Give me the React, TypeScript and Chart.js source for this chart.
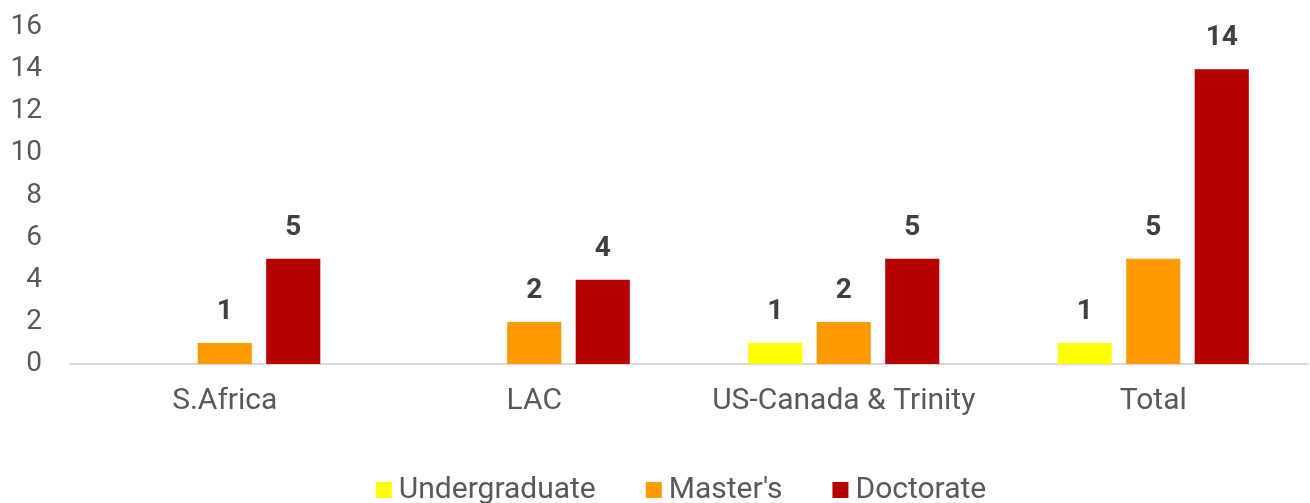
import React, { useEffect, useRef } from 'react';
import { Chart, registerables } from 'chart.js';

Chart.register(...registerables);

const categories = ['S.Africa', 'LAC', 'US-Canada & Trinity', 'Total'];
const seriesNames = ['Undergraduate', "Master's", 'Doctorate'];
const undergraduate = [0, 0, 1, 1];
const masters = [1, 2, 2, 5];
const doctorate = [5, 4, 5, 14];
const yMin = 0;
const yMax = 16;
const yStep = 2;

const colors = ['#FFFF00', '#FF9900', '#B70000'];
const FONT = 'Roboto, "Noto Sans", "DejaVu Sans", sans-serif';

const valueLabels = {
  id: 'valueLabels',
  afterDatasetsDraw(chart: any) {
    const ctx = chart.ctx;
    ctx.save();
    ctx.font = `bold 28px ${FONT}`;
    ctx.fillStyle = '#404040';
    ctx.textAlign = 'center';
    ctx.textBaseline = 'alphabetic';
    chart.data.datasets.forEach((ds: any, i: number) => {
      const meta = chart.getDatasetMeta(i);
      meta.data.forEach((bar: any, j: number) => {
        const v = ds.data[j];
        if (!v) return;
        ctx.fillText(String(v), bar.x, bar.y - 24);
      });
    });
    ctx.restore();
  },
};

// Legend drawn on the canvas below the x axis labels
const bottomLegend = {
  id: 'bottomLegend',
  afterDraw(chart: any) {
    const ctx = chart.ctx;
    const box = 16;
    const boxGap = 7;
    const itemGap = 50;
    const baseline = chart.height - 5;
    ctx.save();
    ctx.font = `30px ${FONT}`;
    ctx.textBaseline = 'alphabetic';
    ctx.textAlign = 'left';
    const items = chart.data.datasets.map((ds: any) => ({
      text: ds.label,
      color: ds.backgroundColor,
      w: ctx.measureText(ds.label).width,
    }));
    const total =
      items.reduce((s: number, it: any) => s + box + boxGap + it.w, 0) + itemGap * (items.length - 1);
    const center = (chart.chartArea.left + chart.chartArea.right) / 2 - 8;
    let x = center - total / 2;
    items.forEach((it: any) => {
      ctx.fillStyle = it.color;
      ctx.fillRect(x, baseline - box, box, box);
      ctx.fillStyle = '#595959';
      ctx.fillText(it.text, x + box + boxGap, baseline);
      x += box + boxGap + it.w + itemGap;
    });
    ctx.restore();
  },
};

export default function App() {
  const ref = useRef<HTMLCanvasElement | null>(null);
  useEffect(() => {
    if (!ref.current) return;
    const series = [undergraduate, masters, doctorate];
    const chart = new Chart(ref.current, {
      type: 'bar',
      data: {
        labels: categories,
        datasets: series.map((d, i) => ({
          label: seriesNames[i],
          data: d,
          backgroundColor: colors[i],
          borderWidth: 0,
          categoryPercentage: 0.664,
          barPercentage: 0.79,
        })),
      },
      options: {
        animation: false,
        responsive: true,
        maintainAspectRatio: false,
        layout: { padding: { top: 27, right: 2, left: 0, bottom: 0 } },
        plugins: {
          tooltip: { enabled: false },
          legend: { display: false },
        },
        scales: {
          x: {
            grid: { display: false, drawTicks: false },
            border: { display: true, color: '#D9D9D9', width: 2 },
            ticks: { font: { size: 30, family: FONT }, color: '#595959', padding: 19 },
            afterFit: (scale: any) => {
              scale.height = 139;
            },
          },
          y: {
            min: yMin,
            max: yMax,
            grid: { display: false, drawTicks: false },
            border: { display: false },
            ticks: {
              stepSize: yStep,
              font: { size: 28, family: FONT },
              color: '#595959',
              padding: 28,
            },
            afterFit: (scale: any) => {
              scale.width = 70;
              scale.paddingTop = 0;
              scale.paddingBottom = 0;
            },
          },
        },
      },
      plugins: [valueLabels, bottomLegend],
    });
    return () => chart.destroy();
  }, []);
  return (
    <div style={{ position: 'fixed', left: 0, top: 0, width: 1310, height: 503, background: '#fff' }}>
      <canvas ref={ref} />
    </div>
  );
}
